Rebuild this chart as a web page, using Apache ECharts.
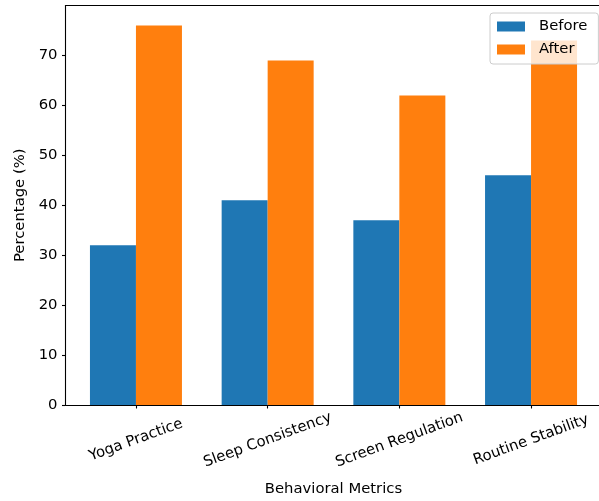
<!DOCTYPE html>
<html>
<head>
<meta charset="utf-8">
<script src="https://cdn.jsdelivr.net/npm/echarts@6/dist/echarts.min.js"></script>
<style>html,body{margin:0;padding:0;background:#fff}#c{width:599px;height:501px}</style>
</head>
<body>
<div id="c"></div>
<script>
const categories = ['Yoga Practice', 'Sleep Consistency', 'Screen Regulation', 'Routine Stability'];
const seriesNames = ['Before', 'After'];
const beforeValues = [32, 41, 37, 46];
const afterValues = [76, 69, 62, 73];
const yTicks = [0, 10, 20, 30, 40, 50, 60, 70];
const xPositions = [0, 1, 2, 3];

const font = 'DejaVu Sans';
const fs = 14.8;
const axisLineStyle = {color: '#000', width: 1.1};
const chart = echarts.init(document.getElementById('c'), null, {renderer: 'canvas'});
chart.setOption({
  animation: false,
  backgroundColor: '#ffffff',
  grid: {left: 65.5, top: 5.5, height: 399.5, width: 536, show: false, outerBoundsMode: 'none', containLabel: false},
  legend: {
    orient: 'vertical', left: 490, top: 13,
    padding: [6, 11, 7, 7], itemGap: 8, itemWidth: 28, itemHeight: 10,
    icon: 'rect',
    borderColor: '#cccccc', borderWidth: 1, borderRadius: 3,
    backgroundColor: 'rgba(255,255,255,0.8)',
    textStyle: {fontFamily: font, fontSize: fs, color: '#000', lineHeight: 15, padding: [0, 0, 0, 9]},
    data: seriesNames
  },
  xAxis: [{
    type: 'value', min: -0.535, max: 3.535,
    name: 'Behavioral Metrics', nameLocation: 'middle', nameGap: 77,
    nameTextStyle: {fontFamily: font, fontSize: fs, color: '#000'},
    axisLine: {show: true, onZero: false, lineStyle: axisLineStyle},
    axisTick: {show: true, length: 3.5, lineStyle: axisLineStyle, customValues: xPositions},
    axisLabel: {
      customValues: xPositions, rotate: 20, align: 'center', verticalAlign: 'middle', margin: 35,
      fontFamily: font, fontSize: fs, color: '#000',
      formatter: v => categories[Math.round(v)]
    },
    splitLine: {show: false}
  }, {
    type: 'value', position: 'top', min: -0.535, max: 3.535,
    axisLine: {show: true, onZero: false, lineStyle: axisLineStyle},
    axisTick: {show: false}, axisLabel: {show: false}, splitLine: {show: false}
  }],
  yAxis: {
    type: 'value', min: 0, max: 80,
    name: 'Percentage (%)', nameLocation: 'middle', nameGap: 36,
    nameTextStyle: {fontFamily: font, fontSize: fs, color: '#000'},
    axisLine: {show: true, onZero: false, lineStyle: axisLineStyle},
    axisTick: {show: true, length: 3.5, lineStyle: axisLineStyle, customValues: yTicks},
    axisLabel: {customValues: yTicks, margin: 8, fontFamily: font, fontSize: fs, color: '#000'},
    splitLine: {show: false}
  },
  series: [
    {name: seriesNames[0], type: 'bar', barWidth: 46, barGap: '0%', itemStyle: {color: '#1f77b4'},
     data: xPositions.map((x, i) => [x, beforeValues[i]])},
    {name: seriesNames[1], type: 'bar', barWidth: 46, barGap: '0%', itemStyle: {color: '#ff7f0e'},
     data: xPositions.map((x, i) => [x, afterValues[i]])}
  ]
});
</script>
</body>
</html>
